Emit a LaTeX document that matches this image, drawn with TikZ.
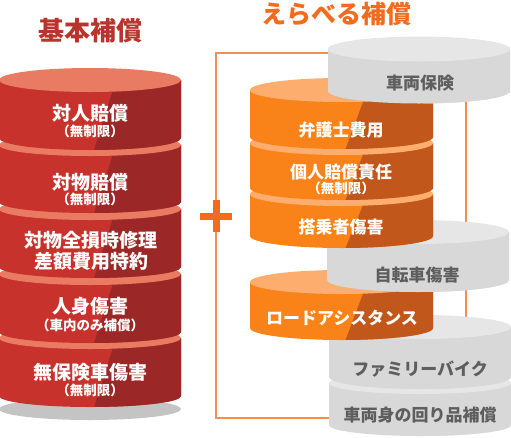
\documentclass[tikz,border=0pt]{standalone}
\usepackage{fontspec}
\setmainfont{Noto Sans CJK JP}
\definecolor{redbody}{HTML}{C8322D}
\definecolor{reddark}{HTML}{9B2826}
\definecolor{redtop}{HTML}{E87B62}
\definecolor{redtitle}{HTML}{B8352E}
\definecolor{orbody}{HTML}{F98318}
\definecolor{ordark}{HTML}{C1571A}
\definecolor{ortop}{HTML}{FDAE6E}
\definecolor{ortitle}{HTML}{F26B1F}
\definecolor{frameor}{HTML}{F58C50}
\definecolor{gybody}{HTML}{D8D8D8}
\definecolor{gytop}{HTML}{E6E6E6}
\definecolor{gytext}{HTML}{5E5E5E}
\definecolor{shadowgy}{HTML}{C4C4C4}
% #1 xc, #2 rx, #3 T, #4 B, #5 ry, #6 body, #7 dark, #8 top
\newcommand\mycyl[8]{%
  \begin{scope}
    \fill[#6] (#1-#2,#3) -- (#1-#2,#4) arc[start angle=180,end angle=0,x radius=#2,y radius=#5] -- (#1+#2,#3) -- cycle;
    \clip (#1-#2,#3) -- (#1-#2,#4) arc[start angle=180,end angle=0,x radius=#2,y radius=#5] -- (#1+#2,#3) -- cycle;
    \fill[#7] (#1+26,#3) -- (#1+#2+1,#3) -- (#1+#2+1,#4+#5+1) -- (#1+4,#4+#5) -- cycle;
  \end{scope}
  \fill[#8] (#1,#3) ellipse[x radius=#2,y radius=#5];
}
\tikzset{
  rmain/.style={text=white,font=\bfseries\fontsize{19}{21}\selectfont,inner sep=0pt},
  rsub/.style={text=white,font=\bfseries\fontsize{13.5}{15}\selectfont,inner sep=0pt},
  omain/.style={text=white,font=\bfseries\fontsize{17}{19}\selectfont,inner sep=0pt},
  osub/.style={text=white,font=\bfseries\fontsize{13.5}{15}\selectfont,inner sep=0pt},
  gmain/.style={text=gytext,font=\bfseries\fontsize{17}{19}\selectfont,inner sep=0pt},
}
\begin{document}
\begin{tikzpicture}[x=1pt,y=-1pt]
\useasboundingbox (0,0) rectangle (511,437);
% titles
\node[text=redtitle,font=\bfseries\fontsize{26}{29}\selectfont,inner sep=0pt] (t1) at (90,31) {基本補償};
\node[text=ortitle,font=\bfseries\fontsize{25}{28}\selectfont,inner sep=0pt] (t2) at (336,14) {えらべる補償};
% frame and plus
\draw[frameor,line width=1.5pt] (216,53) rectangle (466,418);
\draw[ortitle,line width=7pt] (200,216) -- (232,216);
\draw[ortitle,line width=7pt] (216,200) -- (216,232);
% left stack
\fill[shadowgy] (90,409) ellipse[x radius=91,y radius=11];
\mycyl{90}{91}{338}{396}{11}{redbody}{reddark}{redtop}
\mycyl{90}{91}{274}{332}{11}{redbody}{reddark}{redtop}
\mycyl{90}{91}{209}{267}{11}{redbody}{reddark}{redtop}
\mycyl{90}{91}{145}{202}{11}{redbody}{reddark}{redtop}
\mycyl{90}{91}{80}{138}{12}{redbody}{reddark}{redtop}
% right stack
\mycyl{420}{91}{383}{425}{11}{gybody}{gybody}{gytop}
\mycyl{420}{91}{327}{377}{12}{gybody}{gybody}{gytop}
\mycyl{341.5}{91.5}{282}{328}{12}{orbody}{ordark}{ortop}
\mycyl{418}{91}{232}{280}{12}{gybody}{gybody}{gytop}
\mycyl{341.5}{91.5}{194}{236}{12}{orbody}{ordark}{ortop}
\mycyl{341.5}{91.5}{143}{188}{12}{orbody}{ordark}{ortop}
\mycyl{341.5}{91.5}{90}{137}{12}{orbody}{ordark}{ortop}
\mycyl{419}{91}{49}{91}{12.5}{gybody}{gybody}{gytop}
% red texts
\node[rmain] (r1a) at (90,113) {対人賠償};
\node[rsub] (r1b) at (90,131) {（無制限）};
\node[rmain] (r2a) at (90,182) {対物賠償};
\node[rsub] (r2b) at (90,199) {（無制限）};
\node[rmain] (r3a) at (91,240) {対物全損時修理};
\node[rmain] (r3b) at (91,261) {差額費用特約};
\node[rmain] (r4a) at (90,306) {人身傷害};
\node[rsub] (r4b) at (90,325) {（車内のみ補償）};
\node[rmain] (r5a) at (90,372) {無保険車傷害};
\node[rsub] (r5b) at (90,390) {（無制限）};
% orange texts
\node[omain] (o1) at (341,130) {弁護士費用};
\node[omain] (o2a) at (341,172) {個人賠償責任};
\node[osub] (o2b) at (341,188) {（無制限）};
\node[omain] (o3) at (341,227) {搭乗者傷害};
\node[omain] (o4) at (342,318) {ロードアシスタンス};
% gray texts
\node[gmain] (g1) at (420,83) {車両保険};
\node[gmain] (g2) at (417,275) {自転車傷害};
\node[gmain] (g3) at (420,369) {ファミリーバイク};
\node[gmain] (g4) at (420,415) {車両身の回り品補償};
\end{tikzpicture}
\end{document}
